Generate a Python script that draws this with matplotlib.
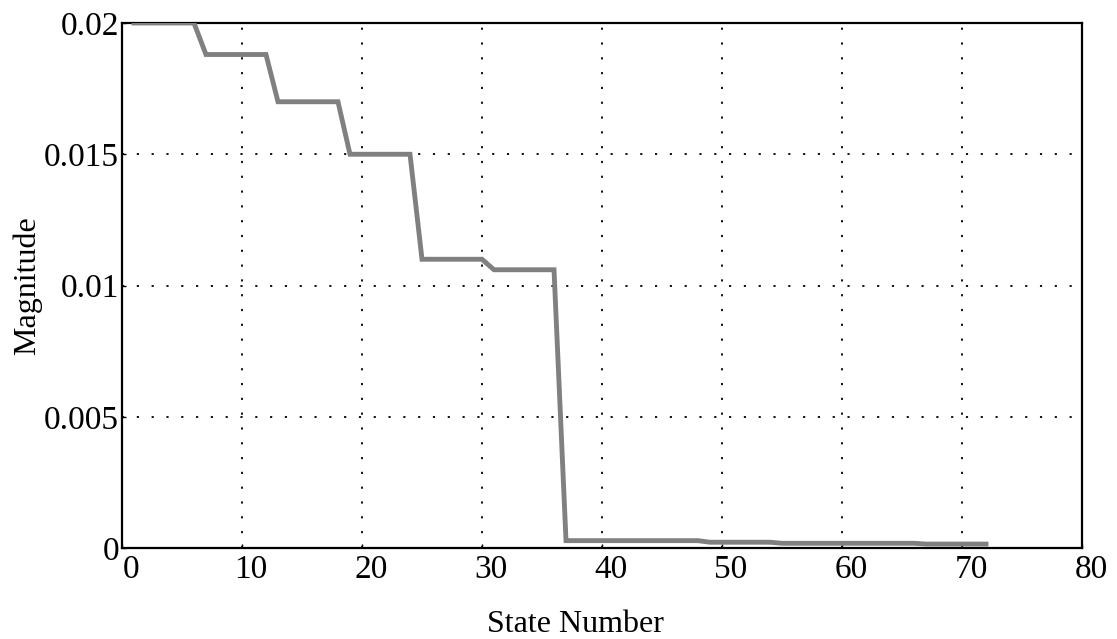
import numpy as np
import matplotlib
matplotlib.use('Agg')
import matplotlib.pyplot as plt
import matplotlib.transforms as mtransforms

# state numbers 1..72 and magnitude
state = np.arange(1, 73)
magnitude = np.array(
    [0.0200] * 6 +
    [0.0188] * 6 +
    [0.0170] * 6 +
    [0.0150] * 6 +
    [0.0110] * 6 +
    [0.0106] * 6 +
    [0.00028] * 12 +
    [0.00022] * 6 +
    [0.00018] * 12 +
    [0.00015] * 6
)

x_ticks = [0, 10, 20, 30, 40, 50, 60, 70, 80]
y_ticks = [0, 0.005, 0.01, 0.015, 0.02]
y_tick_labels = ['0', '0.005', '0.01', '0.015', '0.02']

plt.rcParams['font.family'] = ['Liberation Serif', 'DejaVu Serif']

fig = plt.figure(figsize=(11.17, 6.39), dpi=100)
ax = fig.add_axes([0.1092, 0.1424, 0.8595, 0.8216])

ax.plot(state, magnitude, color='0.5', lw=3.5, solid_joinstyle='miter', zorder=3)

ax.set_xlim(0, 80)
ax.set_ylim(0, 0.02)
ax.set_xticks(x_ticks)
ax.set_yticks(y_ticks)
ax.set_yticklabels(y_tick_labels)
ax.tick_params(direction='in', length=3, width=1, labelsize=24)
ax.tick_params(axis='x', pad=5)
ax.tick_params(axis='y', pad=2)

# x tick labels sit a little right of their ticks in the original
shift = mtransforms.ScaledTranslation(9 / 100, 0, fig.dpi_scale_trans)
for lbl in ax.get_xticklabels():
    lbl.set_transform(lbl.get_transform() + shift)

ax.grid(True, color='black', linestyle=(0, (1.2, 7)), linewidth=1.3)
for s in ax.spines.values():
    s.set_linewidth(1.6)

ax.set_xlabel('State Number', fontsize=23)
ax.set_ylabel('Magnitude', fontsize=23)
ax.xaxis.set_label_coords(0.472, -0.118)
ax.yaxis.set_label_coords(-0.083, 0.5)

fig.savefig('out.png', dpi=100)
